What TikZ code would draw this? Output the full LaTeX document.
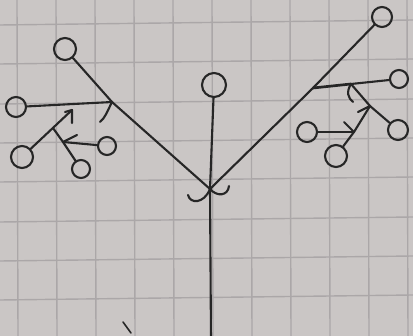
\documentclass[tikz,border=0pt]{standalone}
\definecolor{paper}{HTML}{CAC6C5}
\definecolor{gridc}{HTML}{ABA7A8}
\definecolor{ink}{HTML}{262626}
\begin{document}
\begin{tikzpicture}[x=1pt,y=-1pt,
  leaf/.style={draw=ink, line width=2.1pt, circle, inner sep=0pt},
  stroke/.style={draw=ink, line width=2.1pt, line cap=round, line join=round},
  gridln/.style={draw=gridc, line width=1.4pt}]
\fill[paper] (0,0) rectangle (413,336);
\useasboundingbox (0,0) rectangle (413,336);
\begin{scope}
\clip (0,0) rectangle (413,336);
\foreach \x in {17,56,95,134,173,212,251,290,329,368,407}
  \draw[gridln] (\x,0) -- (\x+1,336);
\foreach \y in {23,62,102,141,180,220,259,298}
  \draw[gridln] (0,\y+2) -- (413,\y-3);
\end{scope}
% leaves
\node[leaf, minimum size=24pt] (c0) at (214,85) {};
\node[leaf, minimum size=22pt] (l1) at (65,49) {};
\node[leaf, minimum size=20pt] (l2) at (16,107) {};
\node[leaf, minimum size=22pt] (l3) at (22,157) {};
\node[leaf, minimum size=18pt] (l4) at (81,169) {};
\node[leaf, minimum size=18pt] (l5) at (107,146) {};
\node[leaf, minimum size=20pt] (r1) at (382,17) {};
\node[leaf, minimum size=18pt] (r2) at (399,79) {};
\node[leaf, minimum size=20pt] (r3) at (398,130) {};
\node[leaf, minimum size=22pt] (r4) at (336,156) {};
\node[leaf, minimum size=20pt] (r5) at (307,132) {};
% junction points
\coordinate (j) at (210,189);
\coordinate (base) at (211,340);
\coordinate (a1) at (112,102);
\coordinate (a2) at (72,110);
\coordinate (a3) at (53,128);
\coordinate (a5) at (63,142);
\coordinate (b1) at (313,88);
\coordinate (b2) at (351,84);
\coordinate (b3) at (370,106);
\coordinate (b4) at (354,132);
% stem
\draw[stroke] (c0) -- (j) -- (base);
\draw[stroke] (j) .. controls (204,204) and (190,204) .. (188,195);
\draw[stroke] (j) .. controls (217,197) and (228,196) .. (229,186);
% left side
\draw[stroke] (l1) -- (a1) -- (j);
\draw[stroke] (l2) -- (a1);
\draw[stroke] (a1) .. controls (107,112) and (105,118) .. (100,122);
\draw[stroke] (a2) -- (l3);
\draw[stroke] (65,112) -- (a2) -- (72,123);
\draw[stroke] (a3) -- (a5) -- (l4);
\draw[stroke] (a5) -- (l5);
\draw[stroke] (a5) -- ++(14,-7);
% right side
\draw[stroke] (r1) -- (b1) -- (j);
\draw[stroke, line width=2.7pt] (b1) -- (b2);
\draw[stroke] (b2) -- (r2);
\draw[stroke] (b2) .. controls (346,92) and (348,98) .. (353,102);
\draw[stroke] (b2) -- (b3) -- (r3);
\draw[stroke] (b3) -- (b4) -- (r4);
\draw[stroke] (b3) -- ++(-12,6);
\draw[stroke] (r5) -- (b4);
\draw[stroke] (b4) -- ++(-10,-10);
% stray pencil mark
\draw[ink, line width=1.6pt, line cap=round] (123,322) -- (131,333);
\end{tikzpicture}
\end{document}
